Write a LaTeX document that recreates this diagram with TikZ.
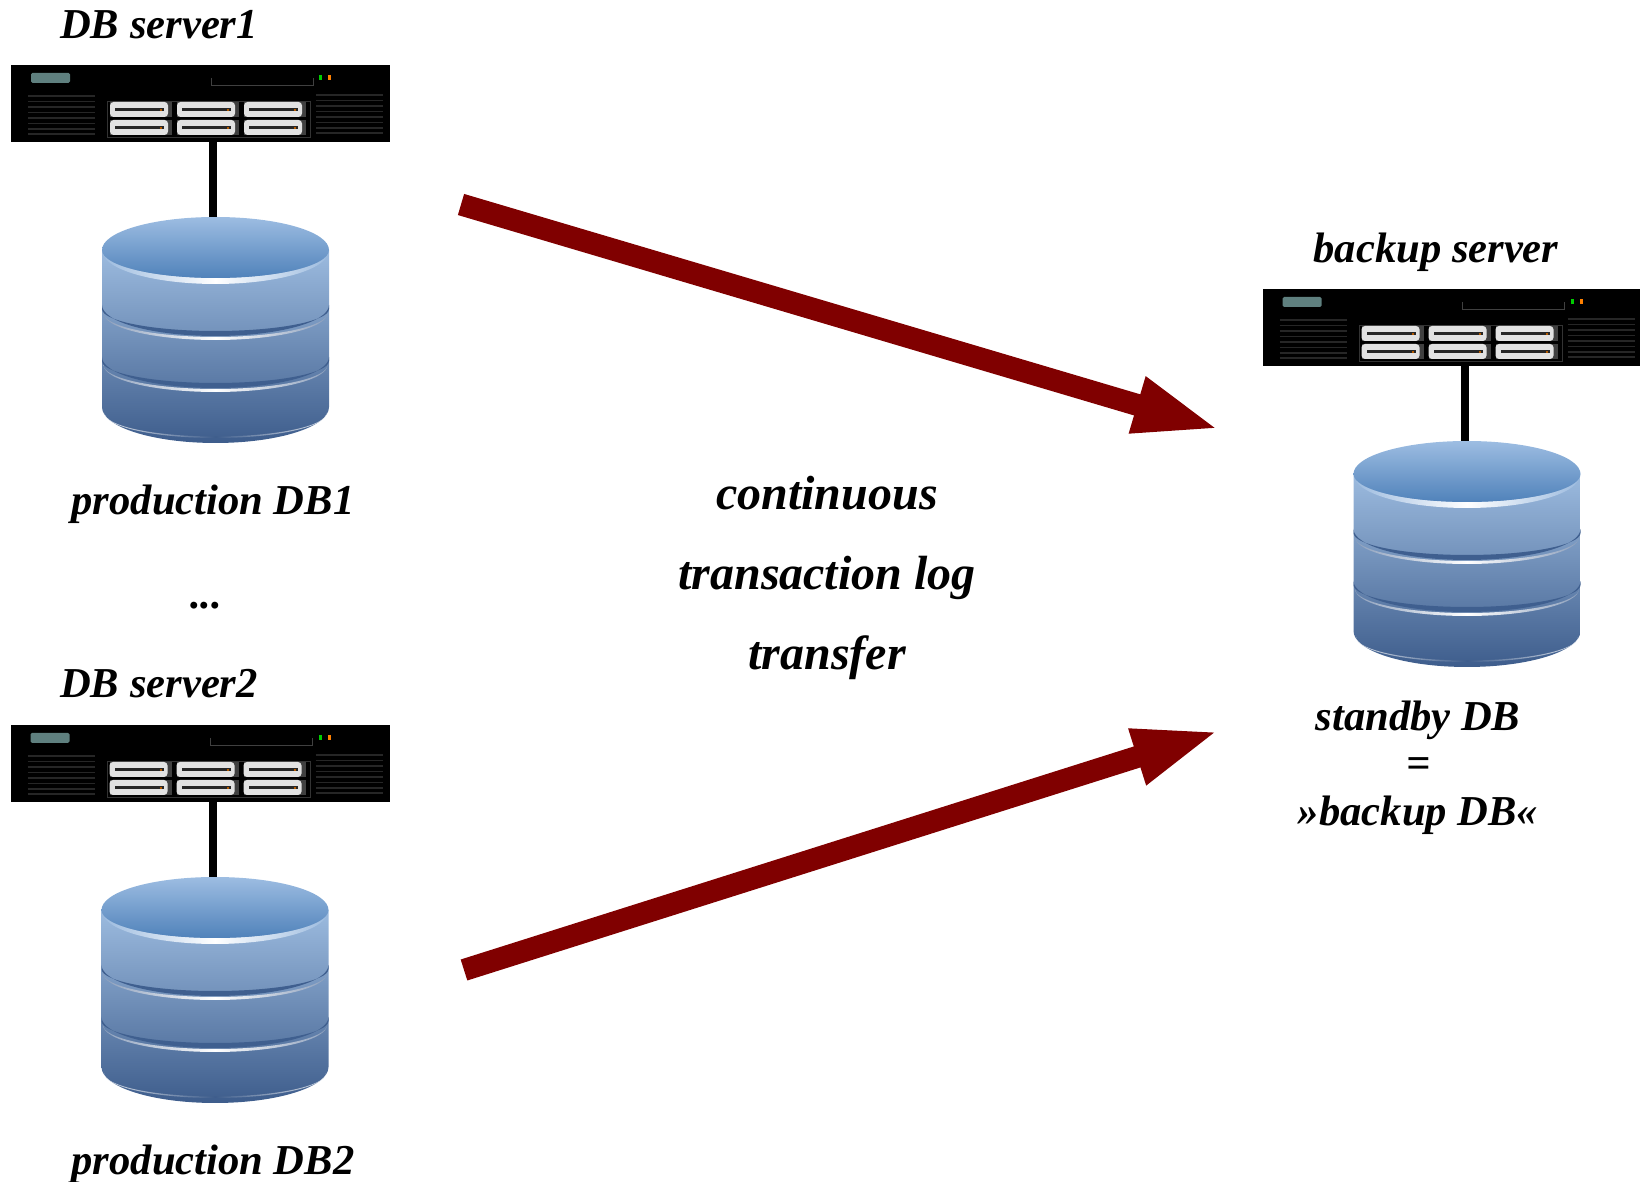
\documentclass[tikz,border=0pt]{standalone}
\usepackage{fontspec}
\setmainfont{Liberation Serif}
\usetikzlibrary{arrows.meta}
\definecolor{dbsky}{HTML}{9DBDE2}
\definecolor{dbsea}{HTML}{5082BA}
\definecolor{dbside}{HTML}{9CBBDF}
\definecolor{dbfoot}{HTML}{3E5D8C}
\definecolor{dbband}{HTML}{3F5F8F}
\definecolor{logred}{HTML}{800000}
\definecolor{srvtag}{HTML}{5F807F}
\definecolor{srvbay}{HTML}{E2E2E2}
\tikzset{
  lbl/.style={font=\fontsize{42.6}{50}\selectfont\bfseries\itshape,inner sep=0pt},
  lblbig/.style={lbl,font=\fontsize{48}{56}\selectfont\bfseries\itshape},
  logarrow/.style={line width=22pt,color=logred,-{Triangle[length=88pt,width=52pt]}},
  wire/.style={line width=8pt,color=black},
  serverbox/.pic={
    \node[fill=black,minimum width=379pt,minimum height=77pt,inner sep=0pt,outer sep=0pt,anchor=north west] (-box) at (0,0) {};
    \coordinate (-plug) at (202,-77);
    % tag, display, leds
    \fill[srvtag,rounded corners=1.5pt] (20,-8) rectangle (59,-18);
    \draw[gray!50!black,line width=1pt] (200,-13) -- (200,-21) -- (302,-21) -- (302,-13);
    \fill[green!80!black] (308,-10) rectangle (311,-15);
    \fill[orange] (317,-10) rectangle (320,-15);
    % vents
    \foreach \vy in {31,36.5,42,47.5,53,58.5,64,69}{
      \draw[black!85,line width=1.4pt] (17,-\vy) -- (84,-\vy);
      \draw[black!85,line width=1.4pt] (305,-\vy+1) -- (372,-\vy+1);
    }
    % drive bays
    \fill[black!80] (96,-36) rectangle (300,-73);
    \fill[black] (97,-37) rectangle (299,-72);
    \foreach \bx in {99,166,233}{
      \foreach \by in {37,55}{
        \fill[black!75] (\bx,-\by) rectangle (\bx+62,-\by-15);
        \fill[srvbay,rounded corners=3.5pt] (\bx,-\by) rectangle (\bx+58,-\by-15);
        \fill[black!85] (\bx+5,-\by-6) rectangle (\bx+54,-\by-9.5);
        \fill[orange!70!black] (\bx+50,-\by-7) rectangle (\bx+52,-\by-9);
      }
    }
  },
  dbdisk/.pic={
    \coordinate (-top) at (-2.5,33);
    % body
    \shade[top color=dbside,bottom color=dbfoot] (-113.5,0) -- (-113.5,-157) arc[start angle=180,end angle=360,x radius=113.5,y radius=36] -- (113.5,0) -- cycle;
    % pale rim below the lid
    \shade[left color=dbside,right color=dbside,middle color=white] (-113,-1) arc[start angle=180,end angle=360,x radius=113,y radius=33] arc[start angle=0,end angle=-180,x radius=113,y radius=27] -- cycle;
    % lid
    \shade[top color=dbsky,bottom color=dbsea] (-113.5,0) arc[start angle=180,end angle=0,x radius=113.5,y radius=33] arc[start angle=360,end angle=180,x radius=113.5,y radius=28] -- cycle;
    % bands
    \foreach \dy in {0,52}{
      \fill[dbband] (-113.5,-55-\dy) arc[start angle=180,end angle=360,x radius=113.5,y radius=31] -- (113.5,-59-\dy) arc[start angle=0,end angle=-180,x radius=113.5,y radius=22] -- cycle;
      \shade[left color=dbband!60,right color=dbband!60,middle color=white] (-112,-63-\dy) arc[start angle=180,end angle=360,x radius=112,y radius=27] arc[start angle=0,end angle=-180,x radius=112,y radius=24] -- cycle;
    }
    % pale rim at the foot
    \shade[left color=dbfoot!20,right color=dbfoot!20,middle color=dbfoot] (-111,-163) arc[start angle=180,end angle=360,x radius=111,y radius=25] arc[start angle=0,end angle=-180,x radius=111,y radius=23.5] -- cycle;
  }
}
\begin{document}
\begin{tikzpicture}[x=1pt,y=1pt]
\useasboundingbox (0,0) rectangle (1640,1182);
% servers
\pic (srvone) at (11,1117) {serverbox};
\pic (srvtwo) at (10.5,457) {serverbox};
\pic (srvbak) at (1262.5,893) {serverbox};
% disks
\pic (dbone) at (215.5,932) {dbdisk};
\pic (dbtwo) at (215,272) {dbdisk};
\pic (dbbak) at (1467,708) {dbdisk};
% wires
\draw[wire] (srvone-plug) -- (dbone-top);
\draw[wire] (srvtwo-plug) -- (dbtwo-top);
\draw[wire] (srvbak-plug) -- (dbbak-top);
% labels
\node[lbl] (lblsrvone) at (159,1157) {DB server1};
\node[lbl] (lbldbone) at (213,678) {production DB1};
\node[lbl] (lbldots) at (206,576) {...};
\node[lbl] (lblsrvtwo) at (159,498) {DB server2};
\node[lbl] (lbldbtwo) at (213,18) {production DB2};
\node[lblbig] (lblcont) at (827,689) {continuous};
\node[lblbig] (lbllog) at (827,604) {transaction log};
\node[lblbig] (lbltrans) at (827,524) {transfer};
\node[lbl] (lblbak) at (1436,930) {backup server};
\node[lbl] (lblstby) at (1418,462) {standby DB};
\node[lbl] (lbleq) at (1419,414) {=};
\node[lbl] (lblbakdb) at (1418,367) {»backup DB«};
% log transfer
\coordinate (fromone) at (461,977.5);
\coordinate (toone) at (1221.5,752.1);
\coordinate (fromtwo) at (464,212);
\coordinate (totwo) at (1221,451.6);
\draw[logarrow] (fromone) -- (toone);
\draw[logarrow] (fromtwo) -- (totwo);
\end{tikzpicture}
\end{document}
